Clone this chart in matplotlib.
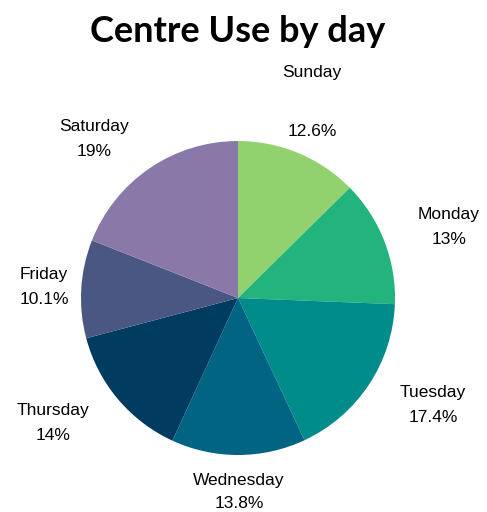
import matplotlib
matplotlib.use("Agg")
import matplotlib.pyplot as plt

days = ["Sunday", "Monday", "Tuesday", "Wednesday", "Thursday", "Friday", "Saturday"]
share = [12.6, 13, 17.4, 13.8, 14, 10.1, 19]
colors = ["#91D26E", "#22B47C", "#008C8A", "#006482", "#003B60", "#4A5783", "#8A79A8"]

# label anchors in pixels: (x, name y, percent y)
label_px = [
    (312, 72, 131),
    (449, 215, 240),
    (433, 393, 417),
    (239, 480, 503),
    (53, 411, 435),
    (44, 275, 300),
    (94, 127, 151),
]

W, H = 487, 512
cx, cy, r = 238, 298, 157

fig = plt.figure(figsize=(W / 100, H / 100), dpi=100)
ax = fig.add_axes([0, 0, 1, 1])

ax.pie(share, colors=colors, startangle=90, counterclock=False,
       radius=1, wedgeprops=dict(linewidth=0))
ax.set_aspect("auto")
ax.set_xlim(-cx / r, (W - cx) / r)
ax.set_ylim(-(H - cy) / r, cy / r)
ax.axis("off")


def to_data(px, py):
    return (px - cx) / r, (cy - py) / r


for day, v, (px, ny, py) in zip(days, share, label_px):
    ax.text(*to_data(px, ny), day, ha="center", va="center",
            fontsize=12.5, family="Liberation Sans")
    ax.text(*to_data(px, py), f"{v:g}%", ha="center", va="center",
            fontsize=12.5, family="Liberation Sans")

fig.text(238 / W, 1 - 31 / H, "Centre Use by day", ha="center", va="center",
         fontsize=26, fontweight="bold", family="Lato")

fig.savefig("out.png", dpi=100)
